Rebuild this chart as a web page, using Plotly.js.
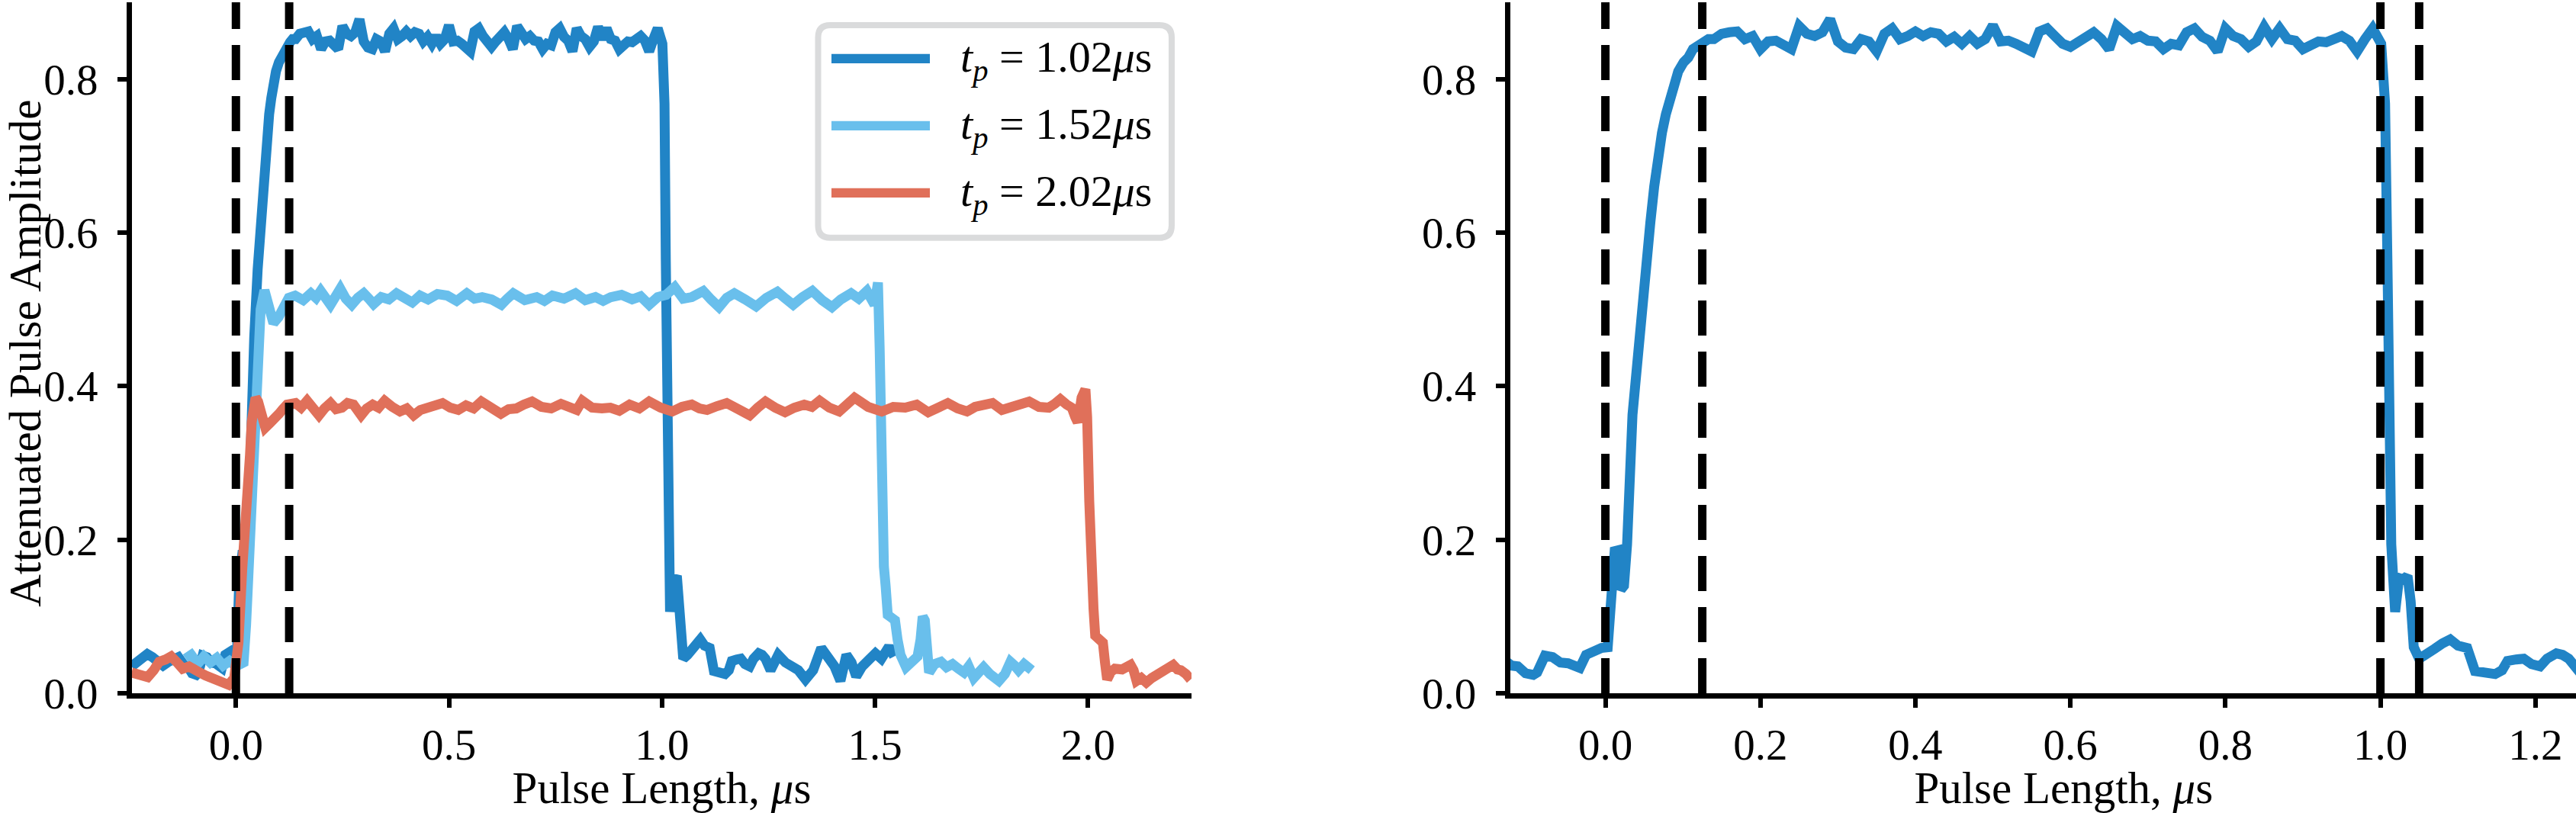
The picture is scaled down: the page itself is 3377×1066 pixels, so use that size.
<!DOCTYPE html>
<html>
<head>
<meta charset="utf-8">
<script src="https://cdn.plot.ly/plotly-3.0.1.min.js"></script>
<style>
  html, body { margin: 0; padding: 0; overflow: hidden; background: #fff; }
  #chart { width: 3434px; height: 1066px; }
</style>
</head>
<body>
<div id="chart"></div>
<script>
// pulse lengths of the three traces
var pulseLengths = ['1.02', '1.52', '2.02'];
var traceColors = ['#2184c6', '#69bfec', '#e0705a'];

// t_p = 1.02 us (shown in both panels)
var blueX = [
  -0.245, -0.232, -0.220, -0.208, -0.196, -0.184, -0.171, -0.158, -0.146, -0.135,
  -0.121, -0.113, -0.103, -0.093, -0.088, -0.078, -0.068, -0.058, -0.048, -0.038,
  -0.033, -0.025, -0.015, -0.005, 0.003, 0.008, 0.012, 0.016, 0.020, 0.024,
  0.028, 0.035, 0.043, 0.051, 0.058, 0.063, 0.068, 0.073, 0.078, 0.083,
  0.088, 0.094, 0.101, 0.107, 0.113, 0.120, 0.127, 0.133,
  0.14, 0.15, 0.16, 0.17, 0.18, 0.19, 0.20, 0.21, 0.22, 0.23,
  0.24, 0.25, 0.26, 0.27, 0.28, 0.29, 0.30, 0.31, 0.32, 0.33,
  0.34, 0.35, 0.36, 0.37, 0.38, 0.39, 0.40, 0.41, 0.42, 0.43,
  0.44, 0.45, 0.46, 0.47, 0.48, 0.49, 0.50, 0.51, 0.52, 0.53,
  0.54, 0.55, 0.56, 0.57, 0.58, 0.59, 0.60, 0.61, 0.62, 0.63,
  0.64, 0.65, 0.66, 0.67, 0.68, 0.69, 0.70, 0.71, 0.72, 0.73,
  0.74, 0.75, 0.76, 0.77, 0.78, 0.79, 0.80, 0.81, 0.82, 0.83,
  0.84, 0.85, 0.86, 0.87, 0.88, 0.89, 0.90, 0.91, 0.92, 0.93,
  0.94, 0.95, 0.96, 0.97, 0.98, 0.99,
  1.001, 1.006, 1.009, 1.011, 1.014, 1.019, 1.024, 1.030, 1.035, 1.039,
  1.043, 1.050, 1.060, 1.070, 1.080, 1.090, 1.100, 1.112, 1.122, 1.135,
  1.148, 1.157, 1.164, 1.175, 1.185, 1.195, 1.206, 1.215, 1.227, 1.235,
  1.243, 1.255, 1.265, 1.273, 1.290, 1.305, 1.320, 1.337, 1.355, 1.374,
  1.390, 1.405, 1.419, 1.433, 1.445, 1.456, 1.470, 1.485, 1.501, 1.515,
  1.533, 1.545
];
var blueY = [
  0.035, 0.040, 0.046, 0.051, 0.047, 0.040, 0.036, 0.041, 0.044, 0.047,
  0.036, 0.035, 0.026, 0.024, 0.027, 0.049, 0.047, 0.040, 0.039, 0.037,
  0.033, 0.050, 0.055, 0.059, 0.060, 0.150, 0.185, 0.186, 0.135, 0.140,
  0.194, 0.363, 0.464, 0.552, 0.613, 0.660, 0.700, 0.730, 0.754, 0.775,
  0.795, 0.810, 0.822, 0.828, 0.839, 0.843, 0.848, 0.852,
  0.852, 0.859, 0.861, 0.862, 0.852, 0.856, 0.839, 0.849, 0.850, 0.846,
  0.839, 0.869, 0.859, 0.856, 0.861, 0.878, 0.849, 0.841, 0.839, 0.852,
  0.849, 0.836, 0.859, 0.866, 0.852, 0.856, 0.862, 0.856, 0.861, 0.859,
  0.849, 0.855, 0.846, 0.856, 0.846, 0.852, 0.870, 0.849, 0.850, 0.846,
  0.841, 0.836, 0.862, 0.866, 0.856, 0.846, 0.842, 0.849, 0.856, 0.861,
  0.852, 0.839, 0.869, 0.862, 0.852, 0.856, 0.850, 0.849, 0.839, 0.846,
  0.844, 0.861, 0.866, 0.855, 0.850, 0.836, 0.866, 0.856, 0.852, 0.842,
  0.849, 0.868, 0.852, 0.866, 0.852, 0.850, 0.839, 0.844, 0.849, 0.848,
  0.852, 0.856, 0.850, 0.836, 0.852, 0.866,
  0.846, 0.768, 0.565, 0.363, 0.194, 0.106, 0.150, 0.148, 0.153, 0.120,
  0.060, 0.045, 0.050, 0.058, 0.065, 0.070, 0.062, 0.059, 0.029, 0.027,
  0.025, 0.030, 0.042, 0.044, 0.045, 0.038, 0.035, 0.045, 0.052, 0.050,
  0.045, 0.030, 0.045, 0.050, 0.040, 0.035, 0.030, 0.018, 0.030, 0.059,
  0.045, 0.035, 0.016, 0.050, 0.040, 0.022, 0.035, 0.045, 0.052, 0.045,
  0.061, 0.048
];

// t_p = 1.52 us
var lightX = [
  -0.118, -0.105, -0.090, -0.075, -0.060, -0.045, -0.030, -0.015, 0.000, 0.010,
  0.018, 0.024, 0.030, 0.036, 0.042, 0.050, 0.058, 0.067, 0.078, 0.088,
  0.100, 0.112, 0.124,
  0.139, 0.158, 0.176, 0.188, 0.199, 0.211, 0.222, 0.234, 0.245, 0.258,
  0.272, 0.286, 0.300, 0.312, 0.323, 0.341, 0.359, 0.377, 0.395, 0.414,
  0.432, 0.451, 0.473, 0.496, 0.518, 0.542, 0.560, 0.578, 0.600, 0.623,
  0.637, 0.651, 0.678, 0.706, 0.724, 0.743, 0.770, 0.797, 0.820, 0.844,
  0.862, 0.880, 0.905, 0.930, 0.950, 0.970, 0.990, 1.010, 1.030, 1.050,
  1.070, 1.097, 1.115, 1.134, 1.152, 1.170, 1.195, 1.221, 1.245, 1.271,
  1.290, 1.308, 1.330, 1.353, 1.376, 1.399, 1.420, 1.444, 1.462, 1.481,
  1.499, 1.507, 1.511, 1.514, 1.517, 1.521, 1.525, 1.530, 1.540, 1.547,
  1.553, 1.560, 1.573, 1.587, 1.600, 1.607, 1.612, 1.617, 1.622, 1.627,
  1.640, 1.655, 1.668, 1.682, 1.696, 1.709, 1.720, 1.732, 1.745, 1.755,
  1.770, 1.791, 1.805, 1.818, 1.828, 1.837, 1.850, 1.868
];
var lightY = [
  0.045, 0.050, 0.038, 0.048, 0.040, 0.046, 0.036, 0.042, 0.035, 0.036,
  0.040, 0.090, 0.165, 0.240, 0.330, 0.430, 0.500, 0.525, 0.500, 0.482,
  0.490, 0.505, 0.515,
  0.518, 0.512, 0.521, 0.515, 0.524, 0.513, 0.506, 0.517, 0.527, 0.514,
  0.506, 0.515, 0.521, 0.514, 0.507, 0.516, 0.513, 0.521, 0.514, 0.509,
  0.518, 0.513, 0.520, 0.518, 0.511, 0.521, 0.514, 0.516, 0.513, 0.506,
  0.514, 0.521, 0.512, 0.516, 0.511, 0.518, 0.514, 0.521, 0.512, 0.516,
  0.511, 0.516, 0.519, 0.513, 0.517, 0.506, 0.516, 0.519, 0.529, 0.514,
  0.516, 0.524, 0.513, 0.503, 0.515, 0.521, 0.513, 0.504, 0.515, 0.523,
  0.514, 0.506, 0.516, 0.524, 0.512, 0.503, 0.513, 0.521, 0.514, 0.524,
  0.506, 0.535, 0.450, 0.300, 0.175, 0.165, 0.140, 0.102, 0.098, 0.095,
  0.070, 0.050, 0.034, 0.040, 0.048, 0.070, 0.100, 0.095, 0.050, 0.027,
  0.038, 0.041, 0.034, 0.038, 0.032, 0.027, 0.035, 0.020, 0.028, 0.034,
  0.025, 0.016, 0.025, 0.041, 0.036, 0.030, 0.038, 0.030
];

// t_p = 2.02 us
var redX = [
  -0.245, -0.225, -0.207, -0.193, -0.180, -0.165, -0.152, -0.138, -0.125, -0.110,
  -0.098, -0.085, -0.071, -0.058, -0.044, -0.030, -0.017, -0.004, 0.006, 0.015,
  0.019, 0.024, 0.028, 0.033, 0.037, 0.042, 0.046, 0.052, 0.060, 0.069,
  0.080, 0.090, 0.101, 0.110, 0.120,
  0.140, 0.153, 0.167, 0.181, 0.195, 0.208, 0.222, 0.235, 0.249, 0.262,
  0.276, 0.285, 0.294, 0.307, 0.321, 0.335, 0.349, 0.367, 0.385, 0.401,
  0.417, 0.433, 0.449, 0.467, 0.485, 0.503, 0.522, 0.540, 0.558, 0.576,
  0.599, 0.622, 0.640, 0.658, 0.676, 0.695, 0.717, 0.740, 0.763, 0.786,
  0.800, 0.813, 0.836, 0.859, 0.879, 0.900, 0.924, 0.947, 0.970, 0.997,
  1.024, 1.047, 1.070, 1.088, 1.106, 1.129, 1.152, 1.179, 1.206, 1.225,
  1.243, 1.266, 1.289, 1.311, 1.334, 1.352, 1.370, 1.393, 1.416, 1.434,
  1.452, 1.484, 1.516, 1.543, 1.571, 1.598, 1.625, 1.648, 1.671, 1.694,
  1.716, 1.735, 1.753, 1.776, 1.798, 1.830, 1.862, 1.885, 1.908, 1.922,
  1.935, 1.950, 1.962, 1.970, 1.976, 1.981, 1.985, 1.994, 1.998, 2.003,
  2.008, 2.013, 2.017, 2.026, 2.035, 2.040, 2.045, 2.054, 2.063, 2.080,
  2.100, 2.107, 2.114, 2.125, 2.137, 2.150, 2.162, 2.173, 2.186, 2.200,
  2.210, 2.218, 2.230, 2.241
];
var redY = [
  0.027, 0.024, 0.021, 0.030, 0.041, 0.044, 0.048, 0.040, 0.032, 0.035,
  0.030, 0.027, 0.023, 0.020, 0.016, 0.013, 0.011, 0.020, 0.066, 0.163,
  0.191, 0.220, 0.263, 0.310, 0.353, 0.375, 0.385, 0.380, 0.360, 0.346,
  0.352, 0.356, 0.364, 0.370, 0.376,
  0.378, 0.372, 0.381, 0.373, 0.362, 0.371, 0.378, 0.370, 0.372, 0.378,
  0.376, 0.369, 0.362, 0.371, 0.376, 0.372, 0.381, 0.373, 0.367, 0.371,
  0.362, 0.369, 0.372, 0.377, 0.378, 0.372, 0.369, 0.375, 0.371, 0.380,
  0.371, 0.364, 0.370, 0.371, 0.376, 0.380, 0.373, 0.371, 0.377, 0.374,
  0.369, 0.381, 0.372, 0.371, 0.372, 0.368, 0.376, 0.371, 0.380, 0.372,
  0.367, 0.373, 0.376, 0.371, 0.369, 0.374, 0.378, 0.370, 0.362, 0.372,
  0.380, 0.372, 0.366, 0.372, 0.376, 0.373, 0.381, 0.372, 0.367, 0.376,
  0.385, 0.373, 0.367, 0.373, 0.372, 0.376, 0.366, 0.372, 0.378, 0.371,
  0.367, 0.373, 0.374, 0.378, 0.369, 0.375, 0.380, 0.373, 0.372, 0.377,
  0.383, 0.376, 0.372, 0.360, 0.353, 0.370, 0.385, 0.396, 0.360, 0.250,
  0.134, 0.110, 0.075, 0.070, 0.066, 0.040, 0.018, 0.028, 0.032, 0.031,
  0.037, 0.030, 0.016, 0.020, 0.014, 0.020, 0.024, 0.027, 0.032, 0.037,
  0.031, 0.030, 0.025, 0.018
];

// vertical markers (rise / fall windows)
var markersLeft = [0, 0.125];
var markersRight = [0, 0.125, 1.0, 1.05];

var yTicks = [0.0, 0.2, 0.4, 0.6, 0.8];
var xTicksLeft = [0.0, 0.5, 1.0, 1.5, 2.0];
var xTicksRight = [0.0, 0.2, 0.4, 0.6, 0.8, 1.0, 1.2];

var FONT = '"Liberation Serif", "Times New Roman", serif';
var W = 3434, H = 1066;
var M = {l: 173, r: 3, t: 3, b: 156.5};
var plotW = W - M.l - M.r, plotH = H - M.t - M.b;

// pixel -> paper helpers for the hand-made legend / y label
function px(x) { return (x - M.l) / plotW; }
function py(y) { return (H - M.b - y) / plotH; }

function axis(extra) {
  var a = {
    showgrid: false, zeroline: false, showline: true,
    linecolor: '#000', linewidth: 7,
    ticks: 'outside', ticklen: 12, tickwidth: 6, tickcolor: '#000',
    tickfont: {family: FONT, size: 57, color: '#000'},
    tickformat: '.1f', tickmode: 'array', automargin: false,
    fixedrange: true
  };
  for (var k in extra) a[k] = extra[k];
  return a;
}

var names = pulseLengths.map(function (v) {
  return '<i>t</i><sub><i>p</i></sub> = ' + v + '<i>\u03bc</i>s';
});

var series = [[blueX, blueY], [lightX, lightY], [redX, redY]];
var data = series.map(function (s, i) {
  return {
    x: s[0], y: s[1], type: 'scatter', mode: 'lines', name: names[i],
    line: {color: traceColors[i], width: 13},
    xaxis: 'x', yaxis: 'y', hoverinfo: 'skip'
  };
});
data.push({
  x: blueX, y: blueY, type: 'scatter', mode: 'lines', name: names[0],
  line: {color: traceColors[0], width: 13},
  xaxis: 'x2', yaxis: 'y2', hoverinfo: 'skip', showlegend: false
});

var shapes = [];
markersLeft.forEach(function (v) {
  shapes.push({type: 'line', xref: 'x', yref: 'y domain', x0: v, x1: v, y0: 0, y1: 1,
    line: {color: '#000', width: 11, dash: '46px,21px'}});
});
markersRight.forEach(function (v) {
  shapes.push({type: 'line', xref: 'x2', yref: 'y2 domain', x0: v, x1: v, y0: 0, y1: 1,
    line: {color: '#000', width: 11, dash: '46px,21px'}});
});

// legend frame (rounded box) and entries
var bx0 = 1072.5, bx1 = 1536, by0 = 33, by1 = 312, rr = 16;
var rx = rr / plotW, ry = rr / plotH;
var L = px(bx0), R = px(bx1), T = py(by0), B = py(by1);
function f(v) { return v.toFixed(5); }
shapes.push({
  type: 'path', xref: 'paper', yref: 'paper', layer: 'above',
  path: 'M' + f(L + rx) + ',' + f(T) + 'L' + f(R - rx) + ',' + f(T) +
        'Q' + f(R) + ',' + f(T) + ',' + f(R) + ',' + f(T - ry) +
        'L' + f(R) + ',' + f(B + ry) + 'Q' + f(R) + ',' + f(B) + ',' + f(R - rx) + ',' + f(B) +
        'L' + f(L + rx) + ',' + f(B) + 'Q' + f(L) + ',' + f(B) + ',' + f(L) + ',' + f(B + ry) +
        'L' + f(L) + ',' + f(T - ry) + 'Q' + f(L) + ',' + f(T) + ',' + f(L + rx) + ',' + f(T) + 'Z',
  line: {color: '#dadbdc', width: 8}, fillcolor: 'rgba(255,255,255,0.8)'
});
var legendRows = [77, 165, 253];
var annotations = [];
legendRows.forEach(function (yy, i) {
  shapes.push({type: 'line', xref: 'paper', yref: 'paper',
    x0: px(1090), x1: px(1219), y0: py(yy), y1: py(yy),
    line: {color: traceColors[i], width: 12.3}});
  annotations.push({xref: 'paper', yref: 'paper', x: px(1257), y: py(yy + 2),
    xanchor: 'left', yanchor: 'middle', showarrow: false, text: names[i],
    font: {family: FONT, size: 58, color: '#000'}});
});

var titleFont = {family: FONT, size: 59, color: '#000'};

// y label placed by hand so it sits where the reference puts it
annotations.push({xref: 'paper', yref: 'paper', x: px(33), y: py(464),
  xanchor: 'center', yanchor: 'middle', textangle: -90, showarrow: false,
  text: 'Attenuated Pulse Amplitude', font: titleFont});

var layout = {
  width: W, height: H,
  margin: M,
  paper_bgcolor: '#fff', plot_bgcolor: '#fff',
  showlegend: false,
  font: {family: FONT, size: 57, color: '#000'},
  xaxis: axis({
    domain: [0, (1562 - M.l) / plotW], range: [-0.244, 2.243],
    tickvals: xTicksLeft, anchor: 'y',
    title: {text: 'Pulse Length, <i>\u03bc</i>s', font: titleFont}
  }),
  yaxis: axis({
    domain: [0, 1], range: [0, 0.9], tickvals: yTicks, anchor: 'x',
    ticklabelstandoff: 14
  }),
  xaxis2: axis({
    domain: [(1979.6 - M.l) / plotW, 1], range: [-0.123, 1.3055],
    tickvals: xTicksRight, anchor: 'y2',
    title: {text: 'Pulse Length, <i>\u03bc</i>s', font: titleFont}
  }),
  yaxis2: axis({
    domain: [0, 1], range: [0, 0.9], tickvals: yTicks, anchor: 'x2',
    ticklabelstandoff: 14
  }),
  shapes: shapes,
  annotations: annotations
};

Plotly.newPlot('chart', data, layout, {displayModeBar: false, staticPlot: true});
</script>
</body>
</html>
